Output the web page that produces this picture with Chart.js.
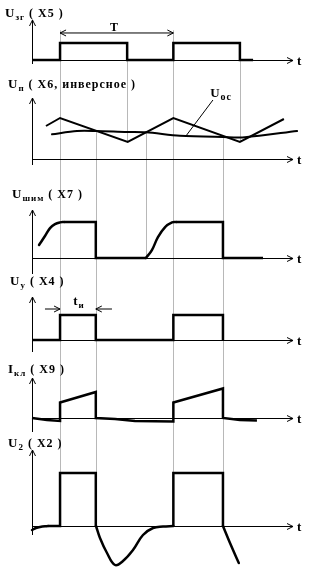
<!DOCTYPE html>
<html>
<head>
<meta charset="utf-8">
<script src="https://cdn.jsdelivr.net/npm/chart.js@4/dist/chart.umd.min.js"></script>
<style>
  html, body { margin: 0; padding: 0; background: #fff; }
  canvas { display: block; }
</style>
</head>
<body>
<canvas id="chart" width="316" height="576"></canvas>
<script>
    'use strict';

    // time axis is in arbitrary units (period T ~ 10.3), values in per-panel units

    // U_зг (X5)
    var zgT = [0, 2.55, 2.55, 8.65, 8.65, 12.85, 12.85, 18.9, 18.9, 20.1];
    var zgV = [0, 0, 1, 1, 0, 0, 1, 1, 0, 0];

    // U_п (X6) triangle and U_oc
    var pT = [1.27, 2.55, 8.7, 12.85, 18.9, 22.9];
    var pV = [3.3, 4.1, 1.7, 4.1, 1.7, 4.0];
    var ocT = [1.82, 4.09, 5.82, 8.64, 10.36, 13.45, 17.36, 19.36, 24.1];
    var ocV = [2.47, 2.8, 2.8, 2.7, 2.67, 2.33, 2.2, 2.18, 2.8];

    // U_шим (X7)
    var shimRise1T = [0.64, 1.18, 1.64, 2.09, 2.55, 2.9];
    var shimRise1V = [0.36, 0.61, 0.83, 0.94, 0.99, 1];
    var shim1T = [2.9, 5.8, 5.8, 10.36];
    var shim1V = [1, 1, 0, 0];
    var shimRise2T = [10.36, 10.9, 11.45, 12.1, 12.73, 13.1];
    var shimRise2V = [0, 0.22, 0.58, 0.86, 0.99, 1];
    var shim2T = [13.1, 17.36, 17.36, 21];
    var shim2V = [1, 1, 0, 0];

    // U_у (X4)
    var uyT = [0, 2.55, 2.55, 5.8, 5.8, 12.85, 12.85, 17.36, 17.36];
    var uyV = [0, 0, 1, 1, 0, 0, 1, 1, 0];

    // I_кл (X9)
    var iklT = [0, 1.36, 2.55, 2.55, 5.8, 5.8, 7.55, 9.36, 12.85, 12.85, 17.36, 17.36, 18.9, 20.45];
    var iklV = [0, -0.2, -0.3, 1.55, 2.6, 0, -0.1, -0.3, -0.35, 1.55, 2.95, 0, -0.2, -0.25];

    // U_2 (X2)
    var u2StartT = [0, 0.36, 0.73, 1.45];
    var u2StartV = [-0.4, -0.2, -0.1, 0];
    var u2Sq1T = [1.45, 2.55, 2.55, 5.8, 5.8];
    var u2Sq1V = [0, 0, 5.3, 5.3, 0];
    var u2Dip1T = [5.82, 6.18, 6.82, 7.55, 8.27, 9.18, 10.09, 11.0, 11.91, 12.85];
    var u2Dip1V = [0, -1.2, -2.7, -3.9, -3.5, -2.4, -0.9, -0.2, -0.05, 0];
    var u2Sq2T = [12.85, 12.85, 17.36, 17.36];
    var u2Sq2V = [0, 5.3, 5.3, 0];
    var u2Dip2T = [17.36, 18.0, 18.8];
    var u2Dip2V = [0, -1.7, -3.7];

    // panel titles: main letter, subscript, rest
    var titles = [
        ['U', 'зг', ' ( X5 )'],
        ['U', 'п', ' ( X6, инверсное )'],
        ['U', 'шим', ' ( X7 )'],
        ['U', 'у', ' ( X4 )'],
        ['I', 'кл', ' ( X9 )'],
        ['U', '2', ' ( X2 )']
    ];

    // layout (pixels)
    var W = 316, H = 576;
    var AXIS_X = 32, PX_PER_T = 11, T_END = 23.73;
    var panels = [
        { id: 'y1', base: 60,  unit: 17, top: 20,  bottom: 64,  tx: 5,  ty: 17 },
        { id: 'y2', base: 159, unit: 10, top: 98,  bottom: 165, tx: 8,  ty: 88 },
        { id: 'y3', base: 258, unit: 36, top: 210, bottom: 274, tx: 12, ty: 198 },
        { id: 'y4', base: 340, unit: 25, top: 297, bottom: 352, tx: 10, ty: 285 },
        { id: 'y5', base: 418, unit: 10, top: 378, bottom: 432, tx: 8,  ty: 373 },
        { id: 'y6', base: 526, unit: 10, top: 450, bottom: 535, tx: 8,  ty: 447 }
    ];

    // vertical guide lines: time, from [scale, value] to [scale, value]
    var guides = [
        { t: 2.55,  from: ['y1', 1.75], to: ['y6', 0] },
        { t: 8.65,  from: ['y1', 1],    to: ['y2', 1.7] },
        { t: 12.85, from: ['y1', 1.75], to: ['y6', 0] },
        { t: 18.9,  from: ['y1', 1],    to: ['y2', 1.7] },
        { t: 5.8,   from: ['y2', 2.8],  to: ['y6', 0] },
        { t: 10.36, from: ['y2', 2.67], to: ['y3', 0] },
        { t: 17.36, from: ['y2', 2.3],  to: ['y6', 0] }
    ];

    var FONT = '"Liberation Serif", "Times New Roman", serif';

    function pts(ts, vs) {
        var out = [];
        for (var i = 0; i < ts.length; i++) {
            out.push({ x: ts[i], y: vs[i] });
        }
        return out;
    }

    function line(ts, vs, axis, width, tension) {
        return {
            data: pts(ts, vs),
            yAxisID: axis,
            borderColor: '#000',
            borderWidth: width,
            pointRadius: 0,
            tension: tension || 0,
            borderCapStyle: tension ? 'round' : 'butt',
            fill: false
        };
    }

    function text(ctx, x, y, parts) {
        // parts: [string, size, dy]
        ctx.save();
        ctx.fillStyle = '#000';
        ctx.textBaseline = 'alphabetic';
        ctx.textAlign = 'left';
        if ('letterSpacing' in ctx) ctx.letterSpacing = '1px';
        for (var i = 0; i < parts.length; i++) {
            ctx.font = 'bold ' + parts[i][1] + 'px ' + FONT;
            ctx.fillText(parts[i][0], x, y + parts[i][2]);
            x += ctx.measureText(parts[i][0]).width;
        }
        ctx.restore();
    }

    function seg(ctx, x1, y1, x2, y2) {
        ctx.beginPath();
        ctx.moveTo(x1, y1);
        ctx.lineTo(x2, y2);
        ctx.stroke();
    }

    function arrowHead(ctx, x, y, dx, dy) {
        // open chevron pointing in direction (dx, dy)
        var len = 6, half = 3;
        var px = -dy, py = dx;
        ctx.beginPath();
        ctx.moveTo(x - dx * len + px * half, y - dy * len + py * half);
        ctx.lineTo(x, y);
        ctx.lineTo(x - dx * len - px * half, y - dy * len - py * half);
        ctx.stroke();
    }

    var diagramPlugin = {
        id: 'diagram',
        beforeDatasetsDraw: function (chart) {
            var ctx = chart.ctx, xs = chart.scales.x;
            ctx.save();
            ctx.lineWidth = 1;

            // guides
            ctx.strokeStyle = '#b8b8b8';
            guides.forEach(function (g) {
                var x = Math.round(xs.getPixelForValue(g.t)) + 0.5;
                seg(ctx, x, chart.scales[g.from[0]].getPixelForValue(g.from[1]),
                    x, chart.scales[g.to[0]].getPixelForValue(g.to[1]));
            });

            // axes
            ctx.strokeStyle = '#000';
            var x0 = Math.round(xs.getPixelForValue(0)) + 0.5;
            var xEnd = xs.getPixelForValue(T_END);
            panels.forEach(function (p) {
                var y0 = Math.round(chart.scales[p.id].getPixelForValue(0)) + 0.5;
                seg(ctx, x0, p.top, x0, p.bottom);
                arrowHead(ctx, x0, p.top, 0, -1);
                seg(ctx, x0, y0, xEnd, y0);
                arrowHead(ctx, xEnd, y0, 1, 0);
            });
            ctx.restore();
        },
        afterDatasetsDraw: function (chart) {
            var ctx = chart.ctx, xs = chart.scales.x;
            var xEnd = xs.getPixelForValue(T_END);

            panels.forEach(function (p, i) {
                var tt = titles[i];
                text(ctx, p.tx, p.ty, [[tt[0], 13, 0], [tt[1], 9, 3], [tt[2], 12, 0]]);
                text(ctx, xEnd + 4, chart.scales[p.id].getPixelForValue(0) + 5, [['t', 13, 0]]);
            });

            ctx.save();
            ctx.strokeStyle = '#000';
            ctx.lineWidth = 1;

            // period T between the two rising edges
            var y1 = chart.scales.y1;
            var ya = y1.getPixelForValue(1.59);
            var xa = xs.getPixelForValue(2.55), xb = xs.getPixelForValue(12.85);
            seg(ctx, xa, ya, xb, ya);
            arrowHead(ctx, xa, ya, -1, 0);
            arrowHead(ctx, xb, ya, 1, 0);
            text(ctx, xs.getPixelForValue(7.1), y1.getPixelForValue(1.7), [['T', 12, 0]]);

            // pulse width t_и
            var y4 = chart.scales.y4;
            var yb = y4.getPixelForValue(1.24);
            var l1 = xs.getPixelForValue(1.18), l2 = xs.getPixelForValue(2.55);
            var r1 = xs.getPixelForValue(7.27), r2 = xs.getPixelForValue(5.8);
            seg(ctx, l1, yb, l2, yb);
            arrowHead(ctx, l2, yb, 1, 0);
            seg(ctx, r1, yb, r2, yb);
            arrowHead(ctx, r2, yb, -1, 0);
            text(ctx, xs.getPixelForValue(3.75), y4.getPixelForValue(1.42), [['t', 13, 0], ['и', 9, 3]]);

            // U_oc label with leader
            var y2 = chart.scales.y2;
            seg(ctx, xs.getPixelForValue(16.45), y2.getPixelForValue(5.9),
                xs.getPixelForValue(14.06), y2.getPixelForValue(2.4));
            text(ctx, xs.getPixelForValue(16.2), y2.getPixelForValue(6.2), [['U', 13, 0], ['oc', 10, 3]]);
            ctx.restore();
        }
    };

    var scales = {
        x: {
            type: 'linear',
            display: false,
            min: -AXIS_X / PX_PER_T,
            max: (W - AXIS_X) / PX_PER_T
        }
    };
    panels.forEach(function (p) {
        scales[p.id] = {
            type: 'linear',
            display: false,
            min: (p.base - H) / p.unit,
            max: p.base / p.unit
        };
    });

    var datasets = [
        line(zgT, zgV, 'y1', 2.5),
        line(pT, pV, 'y2', 2),
        line(ocT, ocV, 'y2', 2, 0.3),
        line(shimRise1T, shimRise1V, 'y3', 2.5, 0.4),
        line(shim1T, shim1V, 'y3', 2.5),
        line(shimRise2T, shimRise2V, 'y3', 2.5, 0.4),
        line(shim2T, shim2V, 'y3', 2.5),
        line(uyT, uyV, 'y4', 2.5),
        line(iklT, iklV, 'y5', 2.5),
        line(u2StartT, u2StartV, 'y6', 2.5, 0.4),
        line(u2Sq1T, u2Sq1V, 'y6', 2.5),
        line(u2Dip1T, u2Dip1V, 'y6', 2.5, 0.4),
        line(u2Sq2T, u2Sq2V, 'y6', 2.5),
        line(u2Dip2T, u2Dip2V, 'y6', 2.5, 0.4)
    ];

    new Chart(document.getElementById('chart'), {
        type: 'line',
        data: { datasets: datasets },
        options: {
            responsive: false,
            animation: false,
            devicePixelRatio: 1,
            layout: { padding: 0 },
            plugins: { legend: { display: false }, tooltip: { enabled: false } },
            scales: scales
        },
        plugins: [diagramPlugin]
    });
</script>
</body>
</html>
